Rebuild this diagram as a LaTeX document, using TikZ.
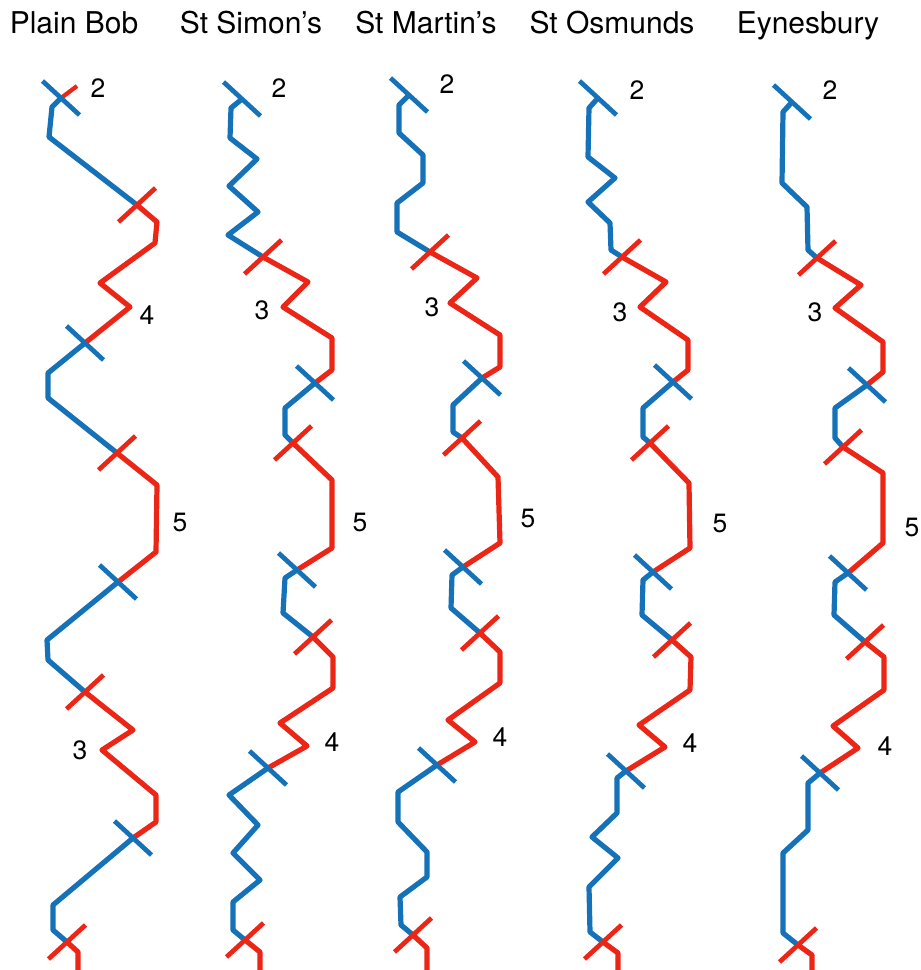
\documentclass[tikz,border=0pt]{standalone}
\usepackage{fontspec}
\setmainfont{TeX Gyre Heros}
\usepackage{xcolor}
\usepackage{tikz}
\definecolor{bellblue}{RGB}{22,114,184}
\definecolor{bellred}{RGB}{236,38,22}

\begin{document}
\begin{tikzpicture}[
    x=1pt, y=-1pt,
    blueline/.style={draw=bellblue, line width=5.2pt, line join=round},
    redline/.style={draw=bellred, line width=5.2pt, line join=round},
    bluetick/.style={draw=bellblue, line width=4.7pt},
    redtick/.style={draw=bellred, line width=4.7pt},
    method/.style={font=\fontsize{30}{36}\selectfont, anchor=base},
    place/.style={font=\fontsize{26.5}{30}\selectfont, inner sep=0pt}
]
\useasboundingbox (0,0) rectangle (921,970);

% Titles
\node[method] (pb) at (74,33)  {Plain Bob};
\node[method] (ss) at (251,33) {St Simon’s};
\node[method] (sm) at (426,33) {St Martin’s};
\node[method] (so) at (612,33) {St Osmunds};
\node[method] (ey) at (808,33) {Eynesbury};

% Plain Bob
\draw[redline, line width=4.2pt] (77,86) -- (61,98);
\draw[blueline] (61,98) -- (52,107) -- (49,137) -- (137,205);
\draw[redline]  (137,205) -- (157,222) -- (155,243) -- (100,283) -- (130,307) -- (85,343);
\draw[blueline] (85,343) -- (48,373) -- (48,398) -- (117,453);
\draw[redline]  (117,453) -- (157,485) -- (156,552) -- (118,582);
\draw[blueline] (118,582) -- (47,640) -- (48,660) -- (85,692);
\draw[redline]  (85,692) -- (133,730) -- (102,750) -- (156,795) -- (156,822) -- (133,838);
\draw[blueline] (133,838) -- (53,905) -- (53,930) -- (67,942);
\draw[redline]  (67,942) -- (78,952) -- (78,975);
\foreach \p in {(61,98),(85,343),(118,582),(133,838)}
  \draw[bluetick] \p +(-18.5,-17) -- +(18.5,17);
\foreach \p in {(137,205),(117,453),(85,692),(67,942)}
  \draw[redtick] \p +(-18.5,17) -- +(18.5,-17);
\node[place] (pb2) at (98,88)  {2};
\node[place] (pb4) at (147,315) {4};
\node[place] (pb5) at (180,522) {5};
\node[place] (pb3) at (80,750) {3};

% St Simon's
\draw[blueline] (242,99) -- (231,108) -- (230,138) -- (257,159) -- (229,186) -- (258,212) -- (228,235) -- (263,257);
\draw[redline]  (263,257) -- (308,282) -- (283,307) -- (332,338) -- (332,370) -- (315,383);
\draw[blueline] (315,383) -- (285,408) -- (285,435) -- (293,443);
\draw[redline]  (293,443) -- (332,480) -- (332,548) -- (297,570);
\draw[blueline] (297,570) -- (285,578) -- (283,613) -- (313,637);
\draw[redline]  (313,637) -- (333,657) -- (333,688) -- (280,723) -- (307,746) -- (268,768);
\draw[blueline] (268,768) -- (229,795) -- (258,825) -- (233,853) -- (260,880) -- (233,902) -- (233,930) -- (245,940);
\draw[redline]  (245,940) -- (260,952) -- (260,975);
\foreach \p in {(242,99),(315,383),(297,570),(268,768)}
  \draw[bluetick] \p +(-18.5,-17) -- +(18.5,17);
\foreach \p in {(263,257),(293,443),(313,637),(245,940)}
  \draw[redtick] \p +(-18.5,17) -- +(18.5,-17);
\node[place] (ss2) at (279,88)  {2};
\node[place] (ss3) at (262,310) {3};
\node[place] (ss5) at (360,522) {5};
\node[place] (ss4) at (332,742) {4};

% St Martin's
\draw[blueline] (409,95) -- (399,105) -- (399,133) -- (423,155) -- (423,183) -- (397,203) -- (397,232) -- (430,252);
\draw[redline]  (430,252) -- (477,278) -- (450,303) -- (500,335) -- (500,367) -- (482,378);
\draw[blueline] (482,378) -- (453,405) -- (453,432) -- (462,438);
\draw[redline]  (462,438) -- (498,477) -- (500,543) -- (463,567);
\draw[blueline] (463,567) -- (452,575) -- (451,608) -- (480,633);
\draw[redline]  (480,633) -- (500,652) -- (500,683) -- (448,720) -- (475,742) -- (437,765);
\draw[blueline] (437,765) -- (398,792) -- (398,822) -- (427,852) -- (427,877) -- (400,897) -- (401,925) -- (413,935);
\draw[redline]  (413,935) -- (427,948) -- (427,975);
\foreach \p in {(409,95),(482,378),(463,567),(437,765)}
  \draw[bluetick] \p +(-18.5,-17) -- +(18.5,17);
\foreach \p in {(430,252),(462,438),(480,633),(413,935)}
  \draw[redtick] \p +(-18.5,17) -- +(18.5,-17);
\node[place] (sm2) at (447,84)  {2};
\node[place] (sm3) at (432,307) {3};
\node[place] (sm5) at (528,518) {5};
\node[place] (sm4) at (500,737) {4};

% St Osmunds
\draw[blueline] (598,98) -- (589,108) -- (588,157) -- (615,178) -- (588,202) -- (610,223) -- (611,250) -- (622,257);
\draw[redline]  (622,257) -- (666,282) -- (640,307) -- (688,340) -- (688,370) -- (673,382);
\draw[blueline] (673,382) -- (643,408) -- (643,437) -- (650,443);
\draw[redline]  (650,443) -- (689,483) -- (690,548) -- (653,572);
\draw[blueline] (653,572) -- (643,580) -- (642,615) -- (672,640);
\draw[redline]  (672,640) -- (691,657) -- (690,690) -- (639,725) -- (665,747) -- (626,771);
\draw[blueline] (626,771) -- (617,778) -- (617,813) -- (592,837) -- (618,858) -- (589,887) -- (590,932) -- (603,942);
\draw[redline]  (603,942) -- (618,953) -- (618,975);
\foreach \p in {(598,98),(673,382),(653,572),(626,771)}
  \draw[bluetick] \p +(-18.5,-17) -- +(18.5,17);
\foreach \p in {(622,257),(650,443),(672,640),(603,942)}
  \draw[redtick] \p +(-18.5,17) -- +(18.5,-17);
\node[place] (so2) at (637,90)  {2};
\node[place] (so3) at (620,312) {3};
\node[place] (so5) at (720,523) {5};
\node[place] (so4) at (690,743) {4};

% Eynesbury
\draw[blueline] (792,102) -- (783,112) -- (782,183) -- (807,207) -- (808,250) -- (817,258);
\draw[redline]  (817,258) -- (861,285) -- (835,308) -- (883,342) -- (883,372) -- (867,385);
\draw[blueline] (867,385) -- (835,408) -- (835,438) -- (843,447);
\draw[redline]  (843,447) -- (883,473) -- (883,543) -- (848,573);
\draw[blueline] (848,573) -- (835,582) -- (834,615) -- (865,642);
\draw[redline]  (865,642) -- (884,657) -- (884,690) -- (833,726) -- (858,748) -- (820,773);
\draw[blueline] (820,773) -- (808,783) -- (808,830) -- (783,853) -- (783,933) -- (798,945);
\draw[redline]  (798,945) -- (812,955) -- (812,975);
\foreach \p in {(792,102),(867,385),(848,573),(820,773)}
  \draw[bluetick] \p +(-18.5,-17) -- +(18.5,17);
\foreach \p in {(817,258),(843,447),(865,642),(798,945)}
  \draw[redtick] \p +(-18.5,17) -- +(18.5,-17);
\node[place] (ey2) at (830,90)  {2};
\node[place] (ey3) at (815,312) {3};
\node[place] (ey5) at (912,527) {5};
\node[place] (ey4) at (885,746) {4};

\end{tikzpicture}
\end{document}
